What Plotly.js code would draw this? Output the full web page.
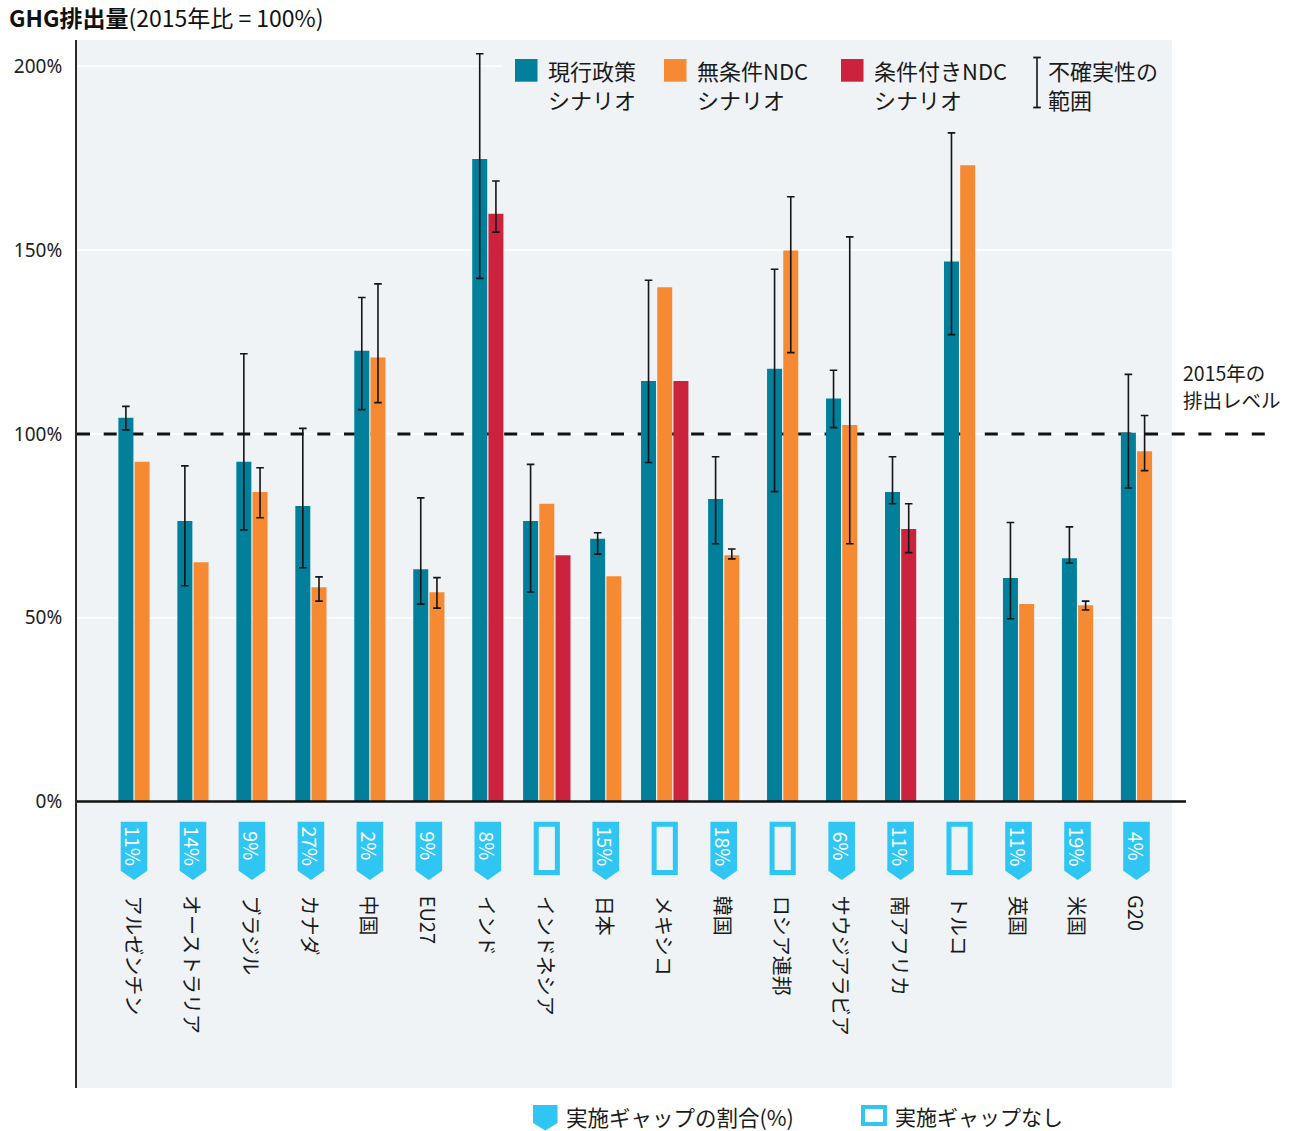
<!DOCTYPE html>
<html><head><meta charset="utf-8">
<script src="https://cdn.plot.ly/plotly-3.0.1.min.js"></script>
<style>html,body{margin:0;padding:0;background:#fff;}</style>
</head><body><div id="chart" style="width:1301px;height:1131px;"></div>
<script>
// ---------------- DATA ----------------
const categories = ['アルゼンチン','オーストラリア','ブラジル','カナダ','中国','EU27','インド','インドネシア','日本','メキシコ','韓国','ロシア連邦','サウジアラビア','南アフリカ','トルコ','英国','米国','G20'];
const gapLabels = ['11%','14%','9%','27%','2%','9%','8%',null,'15%',null,'18%',null,'6%','11%',null,'11%','19%','4%'];

const currentPolicy     = [104.4, 76.3, 92.4, 80.4, 122.6, 63.2, 174.8, 76.3, 71.5, 114.4, 82.3, 117.7, 109.6, 84.2, 146.9, 60.8, 66.2, 100.3];
const currentHigh       = [107.5, 91.3, 121.8, 101.5, 137.1, 82.6, 203.4, 91.7, 73.1, 141.8, 93.8, 144.8, 117.3, 93.8, 181.9, 75.9, 74.7, 116.2];
const currentLow        = [101.1, 58.7, 73.9, 63.6, 106.6, 53.7, 142.3, 57.0, 67.3, 92.2, 70.1, 84.3, 101.7, 81.0, 127.0, 49.7, 64.9, 85.3];

const unconditional     = [92.4, 65.1, 84.2, 58.3, 120.8, 56.9, null, 81.0, 61.3, 139.9, 67.0, 149.9, 102.4, null, 173.1, 53.7, 53.4, 95.3];
const unconditionalHigh = [null, null, 90.8, 61.1, 140.8, 60.9, null, null, null, null, 68.7, 164.5, 153.6, null, null, null, 54.5, 105.0];
const unconditionalLow  = [null, null, 77.2, 54.5, 108.5, 52.6, null, null, null, null, 66.0, 122.1, 70.1, null, null, null, 52.1, 90.0];

const conditional       = [null, null, null, null, null, null, 159.9, 67.0, null, 114.4, null, null, null, 74.1, null, null, null, null];
const conditionalHigh   = [null, null, null, null, null, null, 168.8, null, null, null, null, null, null, 81.0, null, null, null, null];
const conditionalLow    = [null, null, null, null, null, null, 154.9, null, null, null, null, null, null, 67.7, null, null, null, null];

const seriesNames = ['現行政策<br>シナリオ', '無条件NDC<br>シナリオ', '条件付きNDC<br>シナリオ'];
const uncertaintyName = '不確実性の<br>範囲';
const yTickVals = [0, 50, 100, 150, 200];
const yTickText = ['0%', '50%', '100%', '150%', '200%'];
const baselineValue = 100;
const baselineLabel = '2015年の<br>排出レベル';
const chartTitle = '<b>GHG排出量</b>(2015年比 = 100%)';
const gapLegendText = '実施ギャップの割合(%)';
const noGapLegendText = '実施ギャップなし';

// ---------------- STYLE / LAYOUT ----------------
const W = 1301, H = 1131;
const ML = 77, MR = 21, MT = 40, MB = 43;
const PW = W - ML - MR, PH = H - MT - MB;
const FONT = 'Noto Sans CJK JP, Roboto, sans-serif';
const TICKFONT = 'Noto Sans, Noto Sans CJK JP, sans-serif';
const colors = ['#017f9b', '#f68a32', '#cb233d'];
const BG = '#eff3f6';
const BADGE = '#2fc6f4';
const INK = '#1a1a1a';

const catPx = 58.97, firstCatPx = 134;
const xRange = [-(firstCatPx - ML) / catPx, (W - MR - firstCatPx) / catPx];
const zeroPx = 801.5, pxPerUnit = 3.676;
const yRange = [-(H - MB - zeroPx) / pxPerUnit, (zeroPx - MT) / pxPerUnit];

const barW = 15 / catPx, barGap = 1.2 / catPx;
const px2x = p => (p - ML) / PW;      // pixel -> paper x
const px2y = p => (H - MB - p) / PH;  // pixel -> paper y
const panelRight = px2x(1172);

const series = [currentPolicy, unconditional, conditional];
const highs = [currentHigh, unconditionalHigh, conditionalHigh];
const lows = [currentLow, unconditionalLow, conditionalLow];

// offsets: bars present in each category are packed side by side around the category centre
const offsets = series.map(() => []);
categories.forEach((c, i) => {
  const present = series.map(s => s[i] != null);
  const n = present.filter(Boolean).length;
  const total = n * barW + (n - 1) * barGap;
  let k = 0;
  series.forEach((s, j) => {
    if (present[j]) { offsets[j][i] = -total / 2 + k * (barW + barGap); k++; }
    else offsets[j][i] = 0;
  });
});

const xIdx = categories.map((_, i) => i);
const traces = series.map((s, j) => ({
  type: 'bar',
  x: xIdx,
  y: s,
  name: seriesNames[j].replace('<br>', ''),
  width: barW,
  offset: offsets[j],
  marker: { color: colors[j], line: { width: 0 } },
  error_y: {
    type: 'data', symmetric: false, visible: true,
    array: s.map((v, i) => (v != null && highs[j][i] != null) ? highs[j][i] - v : NaN),
    arrayminus: s.map((v, i) => (v != null && lows[j][i] != null) ? v - lows[j][i] : NaN),
    color: '#151515', thickness: 1.6, width: 3.8
  },
  showlegend: false,
  hoverinfo: 'skip'
}));

const shapes = [];
const annotations = [];

// plot background panel (stops before the right-hand note)
shapes.push({ type: 'rect', xref: 'paper', yref: 'paper', x0: 0, x1: panelRight, y0: 0, y1: 1,
  fillcolor: BG, line: { width: 0 }, layer: 'below' });
// white gridlines on the panel
yTickVals.forEach(v => {
  shapes.push({ type: 'line', xref: 'paper', yref: 'y', x0: 0, x1: panelRight, y0: v, y1: v,
    line: { color: '#ffffff', width: 1.6 }, layer: 'below' });
});
// legend panel covering gridline
shapes.push({ type: 'rect', xref: 'paper', yref: 'paper', x0: px2x(502), x1: panelRight, y0: px2y(118), y1: px2y(44),
  fillcolor: BG, line: { width: 0 }, layer: 'below' });
// 2015 level dashed line (behind bars)
shapes.push({ type: 'line', xref: 'paper', yref: 'y', x0: 0, x1: px2x(1275), y0: baselineValue, y1: baselineValue,
  line: { color: '#111111', width: 3, dash: '13px,13.7px' }, layer: 'below' });
// zero axis line
shapes.push({ type: 'line', xref: 'paper', yref: 'y', x0: 0, x1: px2x(1186), y0: 0, y1: 0,
  line: { color: '#111111', width: 2.6 }, layer: 'above' });

// implementation gap badges
categories.forEach((c, i) => {
  if (gapLabels[i] != null) {
    shapes.push({ type: 'path', xref: 'x', yref: 'y', xsizemode: 'pixel', ysizemode: 'pixel', xanchor: i, yanchor: 0,
      path: 'M -13.3 -20.2 L 13.3 -20.2 L 13.3 -69.2 L 0 -78.5 L -13.3 -69.2 Z',
      fillcolor: BADGE, line: { width: 0 }, layer: 'above' });
    annotations.push({ x: i, y: 0, xref: 'x', yref: 'y', yshift: -44.8, text: gapLabels[i], showarrow: false,
      textangle: 90, xanchor: 'center', yanchor: 'middle', font: { family: FONT, size: 19.5, color: '#ffffff' } });
  } else {
    shapes.push({ type: 'rect', xref: 'x', yref: 'y', xsizemode: 'pixel', ysizemode: 'pixel', xanchor: i, yanchor: 0,
      x0: -10.6, x1: 10.6, y0: -22.8, y1: -71.0,
      fillcolor: 'rgba(0,0,0,0)', line: { color: BADGE, width: 5 }, layer: 'above' });
  }
  annotations.push({ x: i, y: 0, xref: 'x', yref: 'y', yshift: -92, text: c, showarrow: false,
    textangle: 90, xanchor: 'center', yanchor: 'top', font: { family: FONT, size: 20, color: INK } });
});

// helper for two-line labels with fixed line spacing
function addLines(text, xPx, firstCenterPx, spacing, size) {
  text.split('<br>').forEach((line, k) => {
    annotations.push({ xref: 'paper', yref: 'paper', x: px2x(xPx), y: px2y(firstCenterPx + k * spacing), text: line,
      showarrow: false, xanchor: 'left', yanchor: 'middle', align: 'left', font: { family: FONT, size: size, color: INK } });
  });
}

// top legend
const legendSq = [515, 664, 841];
series.forEach((s, j) => {
  shapes.push({ type: 'rect', xref: 'paper', yref: 'paper', x0: px2x(legendSq[j]), x1: px2x(legendSq[j] + 22.5),
    y0: px2y(81.7), y1: px2y(59), fillcolor: colors[j], line: { width: 0 }, layer: 'above' });
  addLines(seriesNames[j], legendSq[j] + 30.5, 69.5, 29, 22);
});
// uncertainty icon
const ux = 1037;
shapes.push({ type: 'line', xref: 'paper', yref: 'paper', x0: px2x(ux), x1: px2x(ux), y0: px2y(57.5), y1: px2y(107.5), line: { color: '#151515', width: 1.6 } });
shapes.push({ type: 'line', xref: 'paper', yref: 'paper', x0: px2x(ux - 3.8), x1: px2x(ux + 3.8), y0: px2y(57.5), y1: px2y(57.5), line: { color: '#151515', width: 1.8 } });
shapes.push({ type: 'line', xref: 'paper', yref: 'paper', x0: px2x(ux - 3.8), x1: px2x(ux + 3.8), y0: px2y(107.5), y1: px2y(107.5), line: { color: '#151515', width: 1.8 } });
addLines(uncertaintyName, 1046, 69.5, 29, 22);

// baseline label
addLines(baselineLabel, 1181, 372.5, 26.5, 19.5);

// bottom legend
shapes.push({ type: 'path', xref: 'paper', yref: 'paper',
  path: `M ${px2x(533)} ${px2y(1105)} L ${px2x(557.5)} ${px2y(1105)} L ${px2x(557.5)} ${px2y(1123)} L ${px2x(545.25)} ${px2y(1130.5)} L ${px2x(533)} ${px2y(1123)} Z`,
  fillcolor: BADGE, line: { width: 0 } });
annotations.push({ xref: 'paper', yref: 'paper', x: px2x(564), y: px2y(1116), text: gapLegendText,
  showarrow: false, xanchor: 'left', yanchor: 'middle', font: { family: FONT, size: 21.5, color: INK } });
shapes.push({ type: 'rect', xref: 'paper', yref: 'paper', x0: px2x(863), x1: px2x(885), y0: px2y(1124), y1: px2y(1107),
  fillcolor: 'rgba(0,0,0,0)', line: { color: BADGE, width: 4 } });
annotations.push({ xref: 'paper', yref: 'paper', x: px2x(893), y: px2y(1116), text: noGapLegendText,
  showarrow: false, xanchor: 'left', yanchor: 'middle', font: { family: FONT, size: 21, color: INK } });

const layout = {
  width: W, height: H,
  margin: { l: ML, r: MR, t: MT, b: MB, pad: 0 },
  paper_bgcolor: '#ffffff', plot_bgcolor: 'rgba(0,0,0,0)',
  font: { family: FONT, color: INK },
  title: { text: chartTitle, x: 9 / W, xanchor: 'left', xref: 'container', y: 1 - 19 / H, yanchor: 'middle', yref: 'container',
    font: { family: FONT, size: 23, color: '#111' } },
  barmode: 'overlay',
  showlegend: false,
  xaxis: { range: xRange, showticklabels: false, showgrid: false, zeroline: false, showline: false, ticks: '', fixedrange: true },
  yaxis: { range: yRange, tickvals: yTickVals, ticktext: yTickText, showgrid: false,
    zeroline: false, showline: true, linecolor: '#2a2a2a', linewidth: 2, ticks: '', ticklabelstandoff: 9,
    tickfont: { family: TICKFONT, size: 19, color: '#222' }, fixedrange: true },
  shapes: shapes,
  annotations: annotations
};

Plotly.newPlot('chart', traces, layout, { staticPlot: true, displayModeBar: false });
</script>
</body></html>
